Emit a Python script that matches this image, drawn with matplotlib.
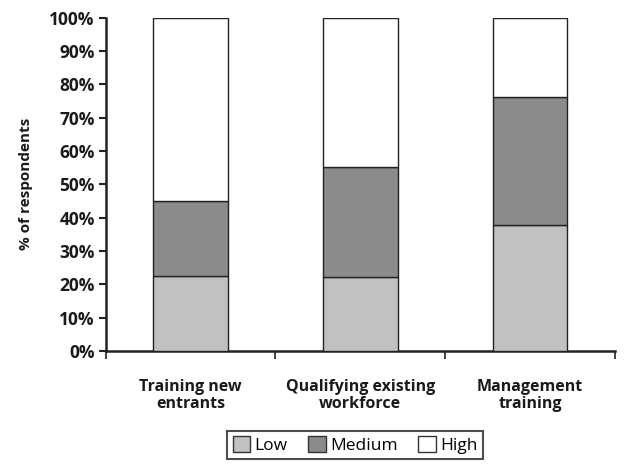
import matplotlib
matplotlib.use("Agg")
import matplotlib.pyplot as plt
from matplotlib.ticker import PercentFormatter
import numpy as np

categories = ["Training new\nentrants", "Qualifying existing\nworkforce", "Management\ntraining"]
low = [22.6, 22.3, 37.8]
medium = [22.3, 32.8, 38.4]
high = [55.1, 44.9, 23.8]
series_names = ["Low", "Medium", "High"]
colors = ["#c0c1c0", "#8a8b8a", "#ffffff"]

plt.rcParams['font.family'] = ['Open Sans', 'DejaVu Sans']

fig = plt.figure(figsize=(6.26, 4.67), dpi=100)
ax = fig.add_axes([0.169, 0.2484, 0.813, 0.714])

x = np.arange(len(categories))
bottom = np.zeros(len(categories))
for vals, name, c in zip([low, medium, high], series_names, colors):
    ax.bar(x, vals, width=0.44, bottom=bottom, color=c, edgecolor="#222222",
           linewidth=1.0, label=name, zorder=3)
    bottom += np.array(vals)

ax.set_xlim(-0.5, len(categories) - 0.5)
ax.set_ylim(0, 100)
ax.set_yticks(np.arange(0, 101, 10))
ax.yaxis.set_major_formatter(PercentFormatter(decimals=0))
for lbl in ax.get_yticklabels():
    lbl.set_fontweight("bold")
ax.tick_params(axis="y", labelsize=12.5, length=5, width=1.5, color="#222222", pad=3,
               labelcolor="#1a1a1a")

ax.set_xticks(np.arange(-0.5, len(categories), 1.0))
ax.set_xticklabels([])
ax.set_xticks(x, minor=True)
ax.set_xticklabels(categories, minor=True, fontweight="bold", fontsize=11.5, linespacing=1.1,
                   color="#1a1a1a")
ax.tick_params(axis="x", which="major", length=6, width=1.2, direction="out", color="#222222")
ax.tick_params(axis="x", which="minor", length=0, pad=20)

for s in ["top", "right"]:
    ax.spines[s].set_visible(False)
for s in ["left", "bottom"]:
    ax.spines[s].set_linewidth(1.8)
    ax.spines[s].set_color("#222222")

ax.set_ylabel("% of respondents", fontweight="bold", fontsize=11, labelpad=12, color="#1a1a1a")

leg = fig.legend(loc="upper center", bbox_to_anchor=(355/626, 1 - 431/467), ncol=3,
                 frameon=True, fancybox=False, edgecolor="#222222", fontsize=12.5,
                 handlelength=1.0, handleheight=1.0, handletextpad=0.25,
                 columnspacing=1.2, borderpad=0.3, borderaxespad=0)
leg.get_frame().set_linewidth(1.5)
for h in leg.legend_handles:
    h.set_edgecolor("#333333")
    h.set_linewidth(1.0)

fig.savefig("out.png", dpi=100)
